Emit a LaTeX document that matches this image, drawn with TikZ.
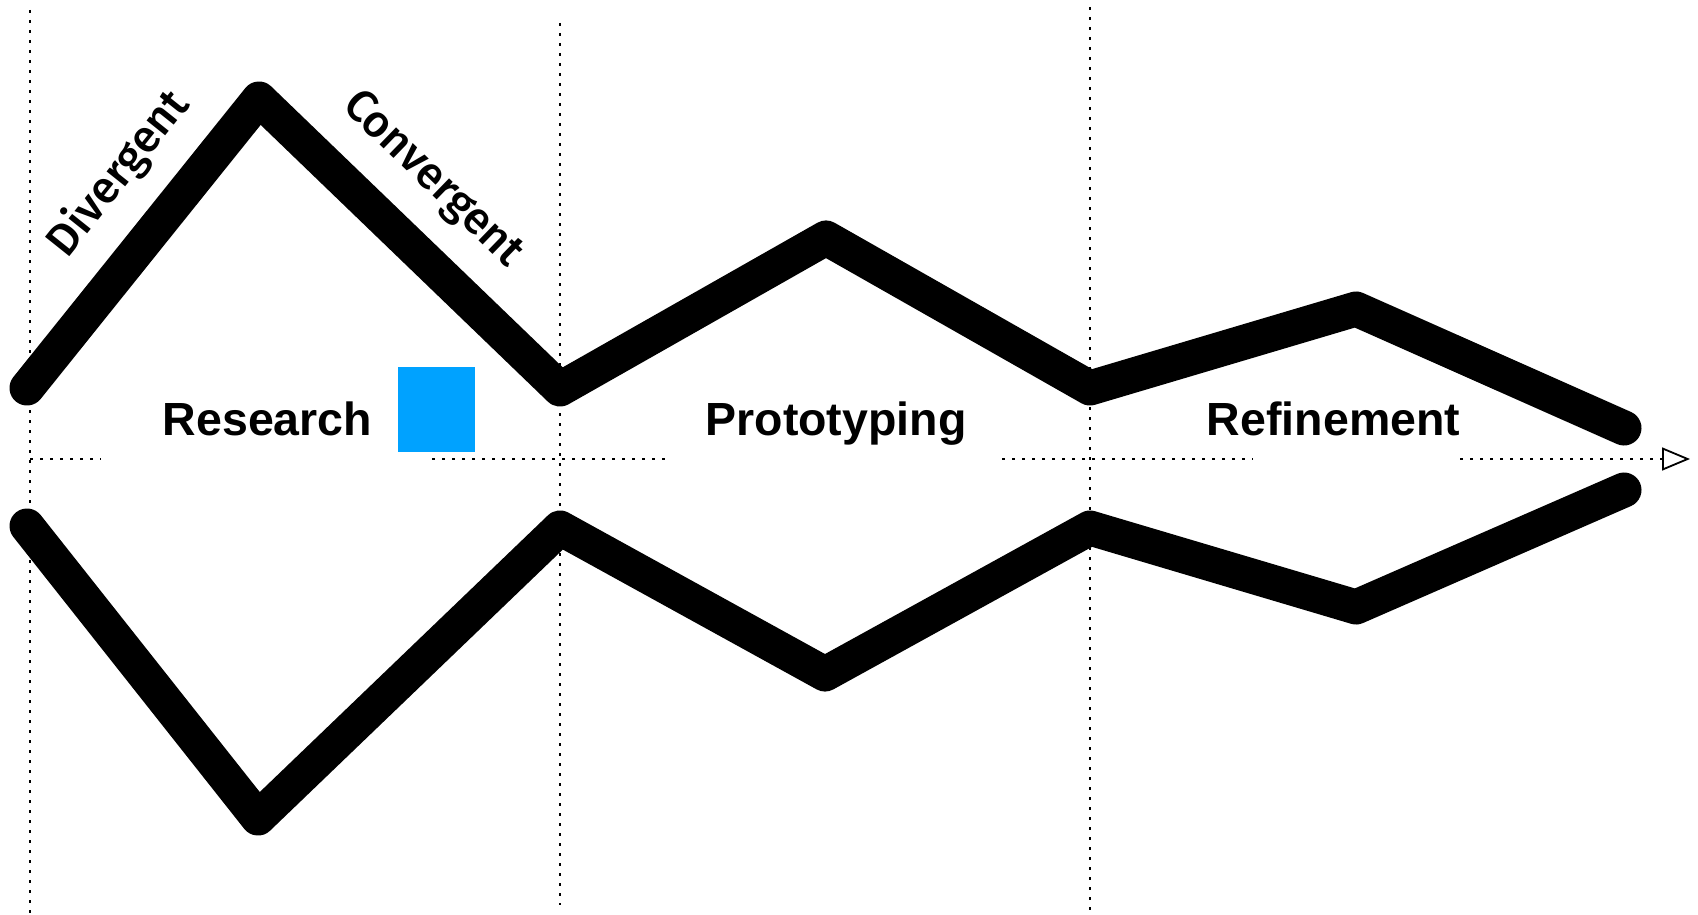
\documentclass[tikz,border=0pt]{standalone}
\usepackage{fontspec}
\setmainfont{Liberation Sans}
\newfontfamily\phasefont{Fira Sans Medium}
\usetikzlibrary{arrows.meta}
\definecolor{stageblue}{RGB}{0,162,255}
\tikzset{
  guide/.style={line width=2.8pt, dash pattern=on 2.8pt off 7.2pt},
  funnel/.style={line width=35pt, line cap=round, line join=round},
  stagelabel/.style={anchor=base, inner sep=0pt, font=\fontsize{46.5}{50}\selectfont\bfseries},
  modelabel/.style={inner sep=0pt, font=\phasefont\fontsize{45}{48}\selectfont},
}
\begin{document}
\begin{tikzpicture}[x=1pt, y=-1pt]
\useasboundingbox (0,0) rectangle (1698,915);

% phase boundaries
\coordinate (v1t) at (30,10);   \coordinate (v1b) at (30,915);
\coordinate (v2t) at (560,23);  \coordinate (v2b) at (560,905);
\coordinate (v3t) at (1090,7);  \coordinate (v3b) at (1090,912);
\draw[guide] (v1t) -- (v1b);
\draw[guide] (v2t) -- (v2b);
\draw[guide] (v3t) -- (v3b);

% time axis, interrupted behind the stage names
\coordinate (a0) at (30,459);   \coordinate (a1) at (101,459);
\coordinate (a2) at (432,459);  \coordinate (a3) at (668,459);
\coordinate (a4) at (1002,459); \coordinate (a5) at (1253,459);
\coordinate (a6) at (1460,459); \coordinate (a7) at (1690,459);
\draw[guide] (a0) -- (a1);
\draw[guide] (a2) -- (a3);
\draw[guide] (a4) -- (a5);
\draw[guide, -{Triangle[open, length=28pt, width=23pt, line width=1.8pt]}] (a6) -- (a7);

% upper outline of the funnel
\coordinate (t0) at (27,388);
\coordinate (t1) at (259,99);
\coordinate (t2) at (560,389);
\coordinate (t3) at (826,238);
\coordinate (t4) at (1090,388);
\coordinate (t5) at (1356,309);
\coordinate (t6) at (1624,428);
\draw[funnel] (t0) -- (t1) -- (t2) -- (t3) -- (t4) -- (t5) -- (t6);

% lower outline of the funnel
\coordinate (b0) at (27,526);
\coordinate (b1) at (258,818);
\coordinate (b2) at (560,528);
\coordinate (b3) at (825,674);
\coordinate (b4) at (1090,528);
\coordinate (b5) at (1356,607);
\coordinate (b6) at (1624,490);
\draw[funnel] (b0) -- (b1) -- (b2) -- (b3) -- (b4) -- (b5) -- (b6);

% stage names
\node[stagelabel] (research) at (267.5,435) {Research};
\node[stagelabel] (proto) at (836,435) {Prototyping};
\node[stagelabel] (refine) at (1333.5,435) {Refinement};

% marker
\fill[stageblue] (398,367) rectangle (475,452);
\coordinate (square) at (436.5,409.5);

% thinking modes along the first phase
\node[modelabel, rotate=51.4] (divergent) at (119,174) {Divergent};
\node[modelabel, rotate=-44.1] (convergent) at (432,180) {Convergent};
\end{tikzpicture}
\end{document}
